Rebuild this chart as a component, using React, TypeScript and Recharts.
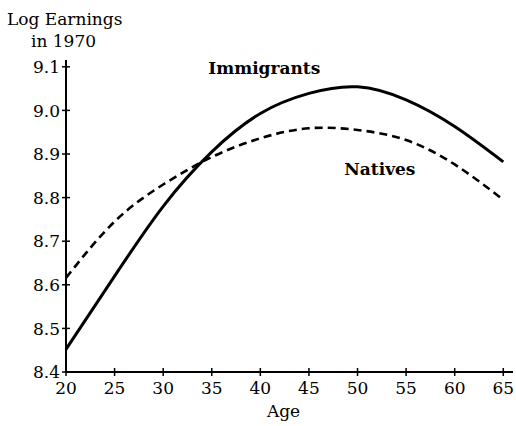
import React from 'react';
import { LineChart, Line, XAxis, YAxis, ReferenceDot } from 'recharts';

const ages = [20, 25, 30, 35, 40, 45, 50, 55, 60, 65];
const immigrants = [8.452, 8.62, 8.78, 8.905, 8.993, 9.039, 9.054, 9.024, 8.963, 8.882];
const natives = [8.616, 8.745, 8.83, 8.893, 8.936, 8.959, 8.955, 8.932, 8.876, 8.795];
const yTicks = [8.4, 8.5, 8.6, 8.7, 8.8, 8.9, 9.0, 9.1];
const xTicks = [20, 25, 30, 35, 40, 45, 50, 55, 60, 65];

const data = ages.map((a, i) => ({ age: a, immigrants: immigrants[i], natives: natives[i] }));

const FONT = '"DejaVu Serif", "Liberation Serif", serif';
const FS = 17;

const YTick = (props: any) => {
  const { x, y, payload } = props;
  return (
    <g>
      <line x1={x + 6 - 4} x2={x + 6 + 4} y1={y} y2={y} stroke="#000" strokeWidth={1.5} />
      <text x={x} y={y} dy="0.36em" textAnchor="end" fontFamily={FONT} fontSize={FS} fill="#000">
        {payload.value.toFixed(1)}
      </text>
    </g>
  );
};

const XTick = (props: any) => {
  const { x, y, payload } = props;
  return (
    <g>
      <line x1={x} x2={x} y1={y - 9 - 4} y2={y - 9 + 4} stroke="#000" strokeWidth={1.5} />
      <text x={x} y={y} dy="0.75em" textAnchor="middle" fontFamily={FONT} fontSize={FS} fill="#000">
        {payload.value}
      </text>
    </g>
  );
};

export default function App() {
  return (
    <div style={{ position: 'absolute', left: 0, top: 0, width: 516, height: 426, background: '#fff' }}>
      <LineChart width={516} height={426} data={data} margin={{ top: 60, right: 3, bottom: 0, left: 0 }}>
        <XAxis
          dataKey="age"
          type="number"
          domain={[20, 66]}
          ticks={xTicks}
          height={54}
          tickSize={0}
          tickMargin={9}
          tickLine={false}
          axisLine={{ stroke: '#000', strokeWidth: 2 }}
          tick={<XTick />}
          label={{
            content: (p: any) => (
              <text x={p.viewBox.x + p.viewBox.width / 2 - 6} y={p.viewBox.y + 45} textAnchor="middle" fontFamily={FONT} fontSize={FS} fill="#000">
                Age
              </text>
            ),
          }}
        />
        <YAxis
          type="number"
          domain={[8.4, 9.1156]}
          ticks={yTicks}
          width={66}
          tickSize={0}
          tickMargin={6}
          tickLine={false}
          axisLine={{ stroke: '#000', strokeWidth: 2 }}
          tick={<YTick />}
          allowDataOverflow
          label={{
            content: (p: any) => (
              <g>
                <text x={p.viewBox.x + 7} y={p.viewBox.y - 35} fontFamily={FONT} fontSize={FS} fill="#000">
                  Log Earnings
                </text>
                <text x={p.viewBox.x + 31} y={p.viewBox.y - 13} fontFamily={FONT} fontSize={FS} fill="#000">
                  in 1970
                </text>
              </g>
            ),
          }}
        />
        <Line
          type="natural"
          dataKey="natives"
          stroke="#000"
          strokeWidth={2.6}
          strokeDasharray="8 5"
          dot={false}
          isAnimationActive={false}
        />
        <Line
          type="natural"
          dataKey="immigrants"
          stroke="#000"
          strokeWidth={3}
          dot={false}
          isAnimationActive={false}
        />
        <ReferenceDot
          x={40.4}
          y={9.1}
          r={0}
          ifOverflow="visible"
          fill="none"
          stroke="none"
          label={{
            content: (p: any) => (
              <text x={p.viewBox.x} y={p.viewBox.y + 7} textAnchor="middle" fontFamily={FONT} fontWeight="bold" fontSize={FS} fill="#000">
                Immigrants
              </text>
            ),
          }}
        />
        <ReferenceDot
          x={52.3}
          y={8.868}
          r={0}
          ifOverflow="visible"
          fill="none"
          stroke="none"
          label={{
            content: (p: any) => (
              <text x={p.viewBox.x} y={p.viewBox.y + 7} textAnchor="middle" fontWeight="bold" fontFamily={FONT} fontSize={FS} fill="#000">
                Natives
              </text>
            ),
          }}
        />
      </LineChart>
    </div>
  );
}
